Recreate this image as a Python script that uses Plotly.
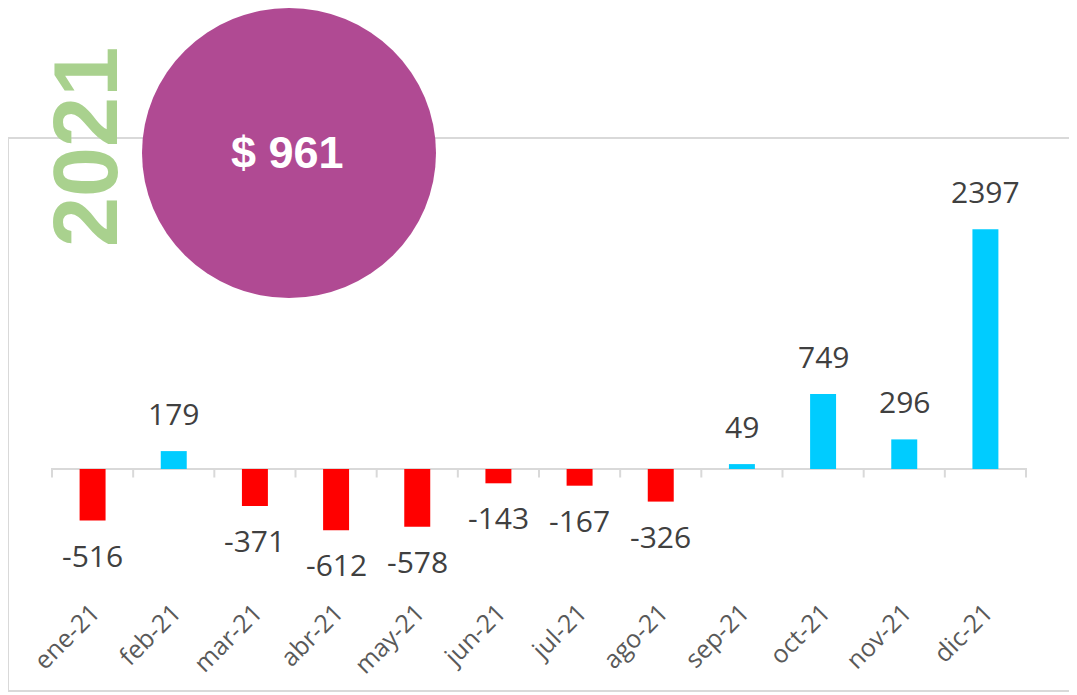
import plotly.graph_objects as go

months = ["ene-21", "feb-21", "mar-21", "abr-21", "may-21", "jun-21",
          "jul-21", "ago-21", "sep-21", "oct-21", "nov-21", "dic-21"]
values = [-516, 179, -371, -612, -578, -143, -167, -326, 49, 749, 296, 2397]
total_label = "$ 961"
year_label = "2021"

NEG_COLOR = "#FF0000"
POS_COLOR = "#00CCFF"
colors = [NEG_COLOR if v < 0 else POS_COLOR for v in values]

OFF = 8  # page body margin
W, H = 1077 - OFF, 695 - OFF
# plot area in page pixels
PL, PR, PT, PB = 51, 1027, 169, 592
L, R, T, B = PL - OFF, PR - OFF, PT - OFF, PB - OFF


def px(xp):
    return (xp - PL) / (PR - PL)


def py(yp):
    return (PB - yp) / (PB - PT)


fig = go.Figure(go.Bar(
    x=months, y=values, marker_color=colors, marker_line_width=0,
    width=0.32, hoverinfo="x+y",
))

shapes = []
shapes.append(dict(type="rect", xref="paper", yref="paper",
                   x0=px(8), x1=px(1095), y0=py(691), y1=py(138),
                   line=dict(color="#D9D9D9", width=2), fillcolor="rgba(0,0,0,0)",
                   layer="below"))
for i in range(len(months) + 1):
    shapes.append(dict(type="line", xref="x", yref="y", x0=i - 0.5, x1=i - 0.5,
                       y0=0, y1=-85, line=dict(color="#D9D9D9", width=2)))
shapes.append(dict(type="circle", xref="paper", yref="paper",
                   x0=px(142), x1=px(436), y0=py(298), y1=py(8),
                   fillcolor="#B04A93", line=dict(width=0), layer="above"))

annotations = []
for m, v in zip(months, values):
    annotations.append(dict(
        x=m, y=v, xref="x", yref="y", text=str(v), showarrow=False,
        yanchor="bottom" if v >= 0 else "top",
        yshift=15 if v >= 0 else -12,
        font=dict(family="Open Sans", size=30, color="#404040"),
    ))
annotations.append(dict(
    x=px(287), y=py(153), xref="paper", yref="paper", text="<b>%s</b>" % total_label,
    showarrow=False, xanchor="center", yanchor="middle",
    font=dict(family="Liberation Sans", size=45, color="#FFFFFF"),
))
annotations.append(dict(
    x=px(86), y=py(147), xref="paper", yref="paper", text="<b>%s</b>" % year_label,
    showarrow=False, xanchor="center", yanchor="middle", textangle=-90,
    font=dict(family="Liberation Sans", size=90, color="#A9D18E"),
))

fig.update_layout(
    width=W, height=H,
    margin=dict(l=L, r=W - R, t=T, b=H - B, pad=0),
    paper_bgcolor="#FFFFFF", plot_bgcolor="#FFFFFF",
    showlegend=False,
    shapes=shapes, annotations=annotations,
    xaxis=dict(type="category", tickangle=-45, showgrid=False, showline=False,
               ticks="", zeroline=False,
               tickfont=dict(family="Open Sans", size=25, color="#595959")),
    yaxis=dict(range=[-1230, 3000], showgrid=False, showticklabels=False,
               zeroline=True, zerolinecolor="#D9D9D9", zerolinewidth=2,
               showline=False, ticks=""),
)

fig.write_html("out.html")
